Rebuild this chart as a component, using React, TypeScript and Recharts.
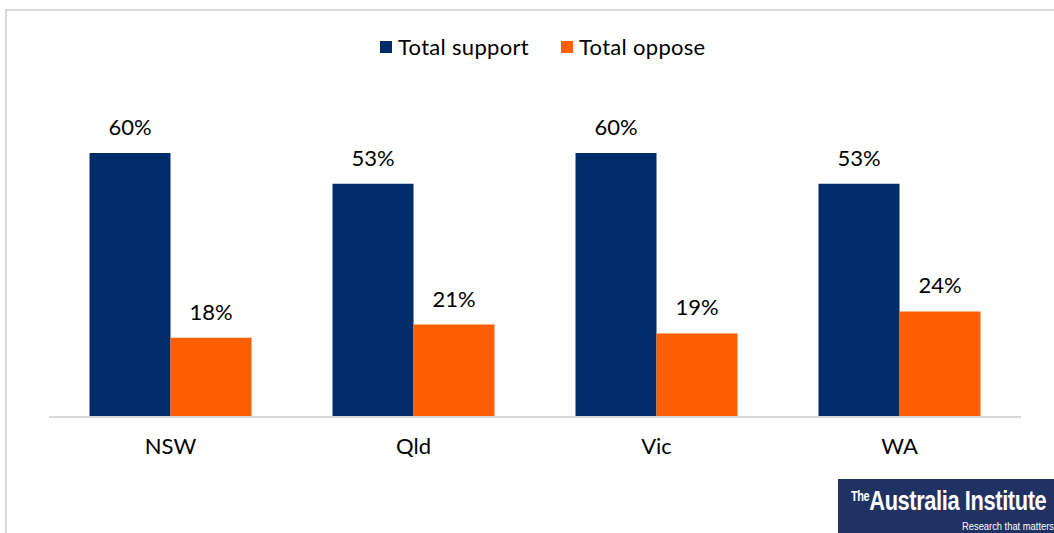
import React from "react";
import { BarChart, Bar, XAxis, YAxis, LabelList } from "recharts";

const categories = ["NSW", "Qld", "Vic", "WA"];
const totalSupport = [60, 53, 60, 53];
const totalOppose = [18, 21, 19, 24];
const seriesNames = ["Total support", "Total oppose"];
const seriesColors = ["#002D6A", "#FF5F00"];

const data = categories.map((c, i) => ({
  name: c,
  support: totalSupport[i],
  oppose: totalOppose[i],
}));

const FONT = "Lato, 'Open Sans', sans-serif";

export default function App() {
  return (
    <div style={{ position: "fixed", left: 0, top: 0, width: 1054, height: 533, background: "#fff", overflow: "hidden", fontFamily: FONT }}>
      <div style={{ position: "absolute", left: 5, top: 9, width: 1060, height: 540, borderLeft: "2px solid #d9d9d9", borderTop: "2px solid #d9d9d9" }} />
      <BarChart
        width={1054}
        height={533}
        data={data}
        margin={{ top: 109, right: 33, bottom: 86, left: 49 }}
        barCategoryGap="16.67%"
        barGap={0}
      >
        <XAxis
          dataKey="name"
          height={30}
          tickLine={false}
          tickSize={0}
          tickMargin={21}
          axisLine={{ stroke: "#d9d9d9", strokeWidth: 2 }}
          tick={{ fill: "#000", fontSize: 22, fontFamily: FONT }}
        />
        <YAxis hide domain={[0, 70]} />
        <Bar dataKey="support" name={seriesNames[0]} fill={seriesColors[0]} isAnimationActive={false}>
          <LabelList dataKey="support" position="top" offset={18} formatter={(v: number) => `${v}%`} style={{ fill: "#000", fontSize: 22, fontFamily: FONT }} />
        </Bar>
        <Bar dataKey="oppose" name={seriesNames[1]} fill={seriesColors[1]} isAnimationActive={false}>
          <LabelList dataKey="oppose" position="top" offset={18} formatter={(v: number) => `${v}%`} style={{ fill: "#000", fontSize: 22, fontFamily: FONT }} />
        </Bar>
      </BarChart>
      <div style={{ position: "absolute", top: 33, left: 380, display: "flex", alignItems: "center", fontSize: 22, color: "#000" }}>
        {seriesNames.map((n, i) => (
          <div key={n} style={{ display: "flex", alignItems: "center", marginRight: i === 0 ? 32 : 0 }}>
            <div style={{ width: 12, height: 12, background: seriesColors[i], marginRight: 6 }} />
            <span style={{ letterSpacing: 0.3 }}>{n}</span>
          </div>
        ))}
      </div>
      <div style={{ position: "absolute", left: 838, top: 479, width: 216, height: 54, background: "#1f3263", color: "#fff", overflow: "hidden" }}>
        <div style={{ position: "absolute", left: 13, top: 6, whiteSpace: "nowrap", fontFamily: "'Liberation Sans', sans-serif", transform: "scaleX(0.78)", transformOrigin: "left top", letterSpacing: -0.5 }}>
          <span style={{ fontSize: 14, verticalAlign: "top", position: "relative", top: 3, fontWeight: 600 }}>The</span>
          <span style={{ fontSize: 28, fontWeight: 600 }}>Australia Institute</span>
        </div>
        <div style={{ position: "absolute", left: 124, top: 41, whiteSpace: "nowrap", fontSize: 11, fontFamily: "'Liberation Sans', sans-serif", transform: "scaleX(0.85)", transformOrigin: "left top" }}>Research that matters</div>
      </div>
    </div>
  );
}
